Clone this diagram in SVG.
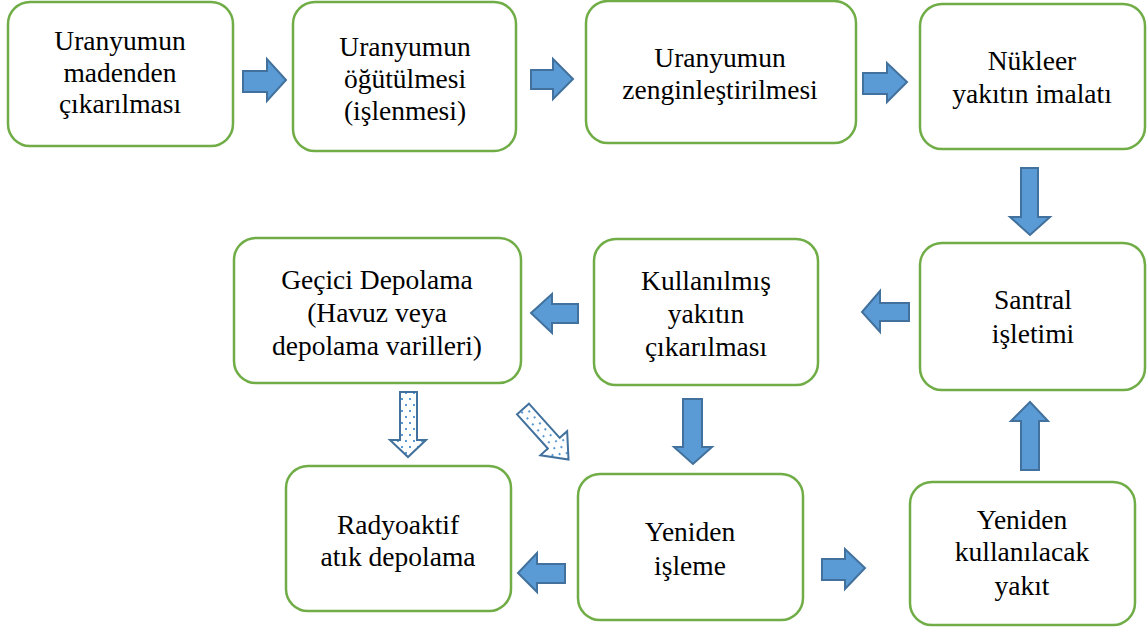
<svg xmlns="http://www.w3.org/2000/svg" width="1147" height="627" viewBox="0 0 1147 627">
<style>
.box{fill:#fff;stroke:#70AD47;stroke-width:2.5}
.t{font-family:"Liberation Serif","Times New Roman",serif;font-size:27.5px;fill:#000;text-anchor:middle}
.ar{fill:#5B9BD5;stroke:#41719C;stroke-width:2;stroke-linejoin:miter}
.dot{fill:url(#dots);stroke:#41719C;stroke-width:2}
</style>
<defs>
<pattern id="dots" patternUnits="userSpaceOnUse" width="8" height="12">
<rect width="8" height="12" fill="#fff"/>
<rect x="1" y="2" width="2" height="2" fill="#5B9BD5"/>
<rect x="5" y="8" width="2" height="2" fill="#5B9BD5"/>
</pattern>
</defs>
<rect width="1147" height="627" fill="#fff"/>
<g id="n1"><rect class="box" x="8" y="2" width="225" height="144" rx="22"/><text class="t" x="120" y="50">Uranyumun</text><text class="t" x="120" y="82">madenden</text><text class="t" x="120" y="113">çıkarılması</text></g>
<g id="n2"><rect class="box" x="293" y="2" width="223" height="149" rx="22"/><text class="t" x="405" y="56">Uranyumun</text><text class="t" x="405" y="88">öğütülmesi</text><text class="t" x="405" y="120">(işlenmesi)</text></g>
<g id="n3"><rect class="box" x="586" y="1" width="270" height="142" rx="22"/><text class="t" x="720" y="67">Uranyumun</text><text class="t" x="720" y="99">zenginleştirilmesi</text></g>
<g id="n4"><rect class="box" x="920" y="4" width="225" height="145" rx="22"/><text class="t" x="1032" y="70">Nükleer</text><text class="t" x="1032" y="103">yakıtın imalatı</text></g>
<g id="n5"><rect class="box" x="920" y="243" width="225" height="147" rx="22"/><text class="t" x="1033" y="309">Santral</text><text class="t" x="1033" y="343">işletimi</text></g>
<g id="n6"><rect class="box" x="594" y="239" width="224" height="146" rx="22"/><text class="t" x="706" y="290">Kullanılmış</text><text class="t" x="706" y="323">yakıtın</text><text class="t" x="706" y="356">çıkarılması</text></g>
<g id="n7"><rect class="box" x="234" y="238" width="287" height="145" rx="22"/><text class="t" x="377" y="289">Geçici Depolama</text><text class="t" x="377" y="322">(Havuz veya</text><text class="t" x="377" y="355">depolama varilleri)</text></g>
<g id="n8"><rect class="box" x="286" y="466" width="225" height="145" rx="22"/><text class="t" x="398" y="534">Radyoaktif</text><text class="t" x="398" y="566">atık depolama</text></g>
<g id="n9"><rect class="box" x="578" y="474" width="225" height="146" rx="22"/><text class="t" x="690" y="541">Yeniden</text><text class="t" x="690" y="575">işleme</text></g>
<g id="n10"><rect class="box" x="910" y="482" width="225" height="143" rx="22"/><text class="t" x="1022" y="529">Yeniden</text><text class="t" x="1022" y="561">kullanılacak</text><text class="t" x="1022" y="595">yakıt</text></g>
<g id="connectors">
<polygon class="ar" points="243,71 267,71 267,59 286,80 267,101 267,92 243,92"/>
<polygon class="ar" points="531,70 553,70 553,59 573,79 553,99 553,89 531,89"/>
<polygon class="ar" points="863,73 887,73 887,63 907,82 887,102 887,94 863,94"/>
<polygon class="ar" points="1021,168 1038,168 1038,217 1050,217 1030,235 1010,217 1021,217"/>
<polygon class="ar" points="909,303 880,303 880,291 862,312 880,332 880,321 909,321"/>
<polygon class="ar" points="578,304 552,304 552,294 531,313 552,333 552,323 578,323"/>
<polygon class="ar" points="683,399 702,399 702,447 712,447 693,464 674,447 683,447"/>
<polygon class="ar" points="1021,470 1039,470 1039,421 1048,421 1030,402 1011,421 1021,421"/>
<polygon class="ar" points="565,564 537,564 537,553 518,573 537,592 537,583 565,583"/>
<polygon class="ar" points="822,559 845,559 845,549 865,568 845,589 845,580 822,580"/>
<polygon class="dot" points="400,392 417,392 417,440 426,440 408,457 390,440 400,440"/>
<polygon class="dot" transform="translate(523,409) rotate(48)" points="0,-8 46,-8 46,-18 68,0 46,18 46,8 0,8"/>
</g>
</svg>
